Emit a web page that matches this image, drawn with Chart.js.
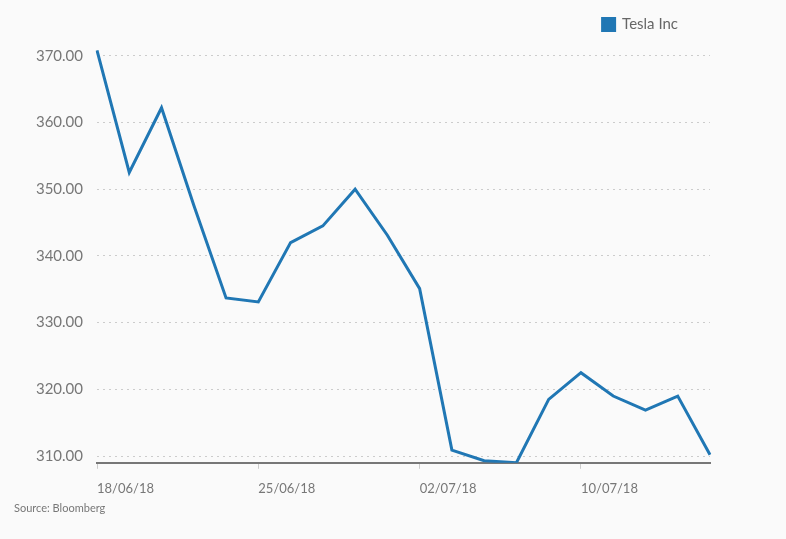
<!DOCTYPE html>
<html>
<head>
<meta charset="utf-8">
<script src="https://cdn.jsdelivr.net/npm/chart.js@4"></script>
<style>
  body { margin: 0; background: #fafafa; }
</style>
</head>
<body>
<canvas id="chart" width="786" height="539"></canvas>
<script>
let dates = [
  '18/06/18', '19/06/18', '20/06/18', '21/06/18', '22/06/18',
  '25/06/18', '26/06/18', '27/06/18', '28/06/18', '29/06/18',
  '02/07/18', '03/07/18', '05/07/18', '06/07/18', '09/07/18',
  '10/07/18', '11/07/18', '12/07/18', '13/07/18', '16/07/18'
]

let tesla = [
  370.8, 352.5, 362.2, 347.6, 333.7,
  333.1, 342.0, 344.5, 350.0, 343.1,
  335.1, 310.9, 309.3, 309.0, 318.5,
  322.5, 319.0, 316.9, 319.0, 310.2
]

let yTicks = [310, 320, 330, 340, 350, 360, 370]

const grey = '#777'
const font = 'Lato'

// moves the legend up/left after layout, without changing the chart area
const legendShift = {
  id: 'legendShift',
  afterLayout(chart) {
    chart.legend.top -= 7
    chart.legend.right = 688
  }
}

let chart = new Chart(document.getElementById('chart'), {
  type: 'line',
  data: {
    labels: dates,
    datasets: [{
      label: 'Tesla Inc',
      data: tesla,
      borderColor: '#2077b4',
      backgroundColor: '#2077b4',
      borderWidth: 3,
      pointRadius: 0,
      tension: 0
    }]
  },
  options: {
    responsive: false,
    animation: false,
    layout: { padding: { left: 14, right: 76, top: 14, bottom: 20 } },
    plugins: {
      legend: {
        align: 'end',
        labels: { boxWidth: 12, boxHeight: 12, padding: 10, color: '#666', font: { family: font, size: 15 } }
      },
      subtitle: {
        display: true,
        text: 'Source: Bloomberg',
        position: 'bottom',
        align: 'start',
        color: grey,
        padding: { top: 4, bottom: 4 },
        font: { family: font, size: 11 }
      },
      tooltip: { enabled: false }
    },
    scales: {
      x: {
        offset: false,
        afterFit: s => { s.height = 35 },
        border: { display: true, color: grey, width: 2 },
        grid: {
          drawOnChartArea: false,
          tickLength: 6,
          color: c => c.index % 5 === 0 ? '#ccc' : 'transparent'
        },
        ticks: {
          autoSkip: false,
          maxRotation: 0,
          align: 'start',
          padding: 12,
          color: grey,
          font: { family: font, size: 13 },
          callback: (v, i) => i % 5 === 0 ? dates[i] : ''
        }
      },
      y: {
        min: 309,
        max: 371,
        afterFit: s => { s.width = 83 },
        afterBuildTicks: s => { s.ticks = yTicks.map(v => ({ value: v })) },
        border: { display: false, dash: [2, 4] },
        grid: { drawTicks: false, color: '#ccc', lineWidth: 1 },
        ticks: {
          padding: 14,
          color: grey,
          font: { family: font, size: 15 },
          callback: v => v.toFixed(2)
        }
      }
    }
  },
  plugins: [legendShift]
})
</script>
</body>
</html>
